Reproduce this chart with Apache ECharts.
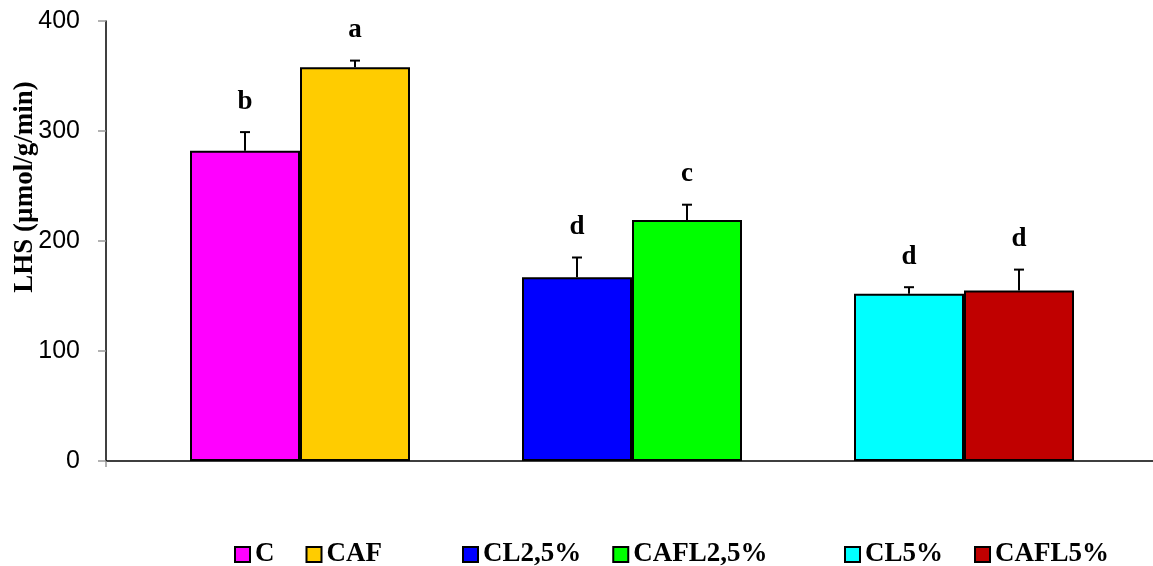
<!DOCTYPE html>
<html>
<head>
<meta charset="utf-8">
<title>LHS</title>
<script src="https://cdn.jsdelivr.net/npm/echarts@6/dist/echarts.min.js"></script>
<style>
  html, body { margin: 0; padding: 0; background: #fff; }
  #chart { width: 1153px; height: 566px; }
</style>
</head>
<body>
<div id="chart"></div>
<script>
// Treatment groups, their means, error (SD) and significance letters
const groups  = ['C', 'CAF', 'CL2,5%', 'CAFL2,5%', 'CL5%', 'CAFL5%'];
const means   = [282, 358, 167, 219, 152, 155];
const errors  = [17, 6, 18, 14, 6, 19];
const letters = ['b', 'a', 'd', 'c', 'd', 'd'];
const colors  = ['#FF00FF', '#FFCC00', '#0000FF', '#00FF00', '#00FFFF', '#C00000'];
const yTicks  = [0, 100, 200, 300, 400];
const axisTitle = 'LHS (µmol/g/min)';

const SERIF = "'Liberation Serif', 'Times New Roman', serif";
const SANS = "'Liberation Sans', Arial, sans-serif";
const BAR_W = 110;
const LABEL_GAP = 17;

// Each pair of bars shares one category slot: first of pair stacks "left", second "right"
const slots = ['p0', 'p1', 'p2'];
const barSeries = groups.map((name, i) => {
  const cat = Math.floor(i / 2);
  const data = slots.map((_, c) => (c === cat ? means[i] : '-'));
  return {
    name,
    type: 'bar',
    xAxisIndex: 1,
    yAxisIndex: 1,
    stack: i % 2 === 0 ? 'left' : 'right',
    barWidth: BAR_W,
    barGap: '0%',
    data,
    itemStyle: { color: colors[i], borderColor: '#000', borderWidth: 2 },
    emphasis: { disabled: true }
  };
});

const errData = groups.map((_, i) => [Math.floor(i / 2), i % 2 === 0 ? -1 : 1, means[i], errors[i]]);

// Error bars with caps, plus the significance letter above each one
const errorSeries = {
  type: 'custom',
  xAxisIndex: 1,
  yAxisIndex: 1,
  data: errData,
  z: 5,
  renderItem: function (params, api) {
    const base = api.coord([api.value(0), api.value(2)]);
    const top = api.coord([api.value(0), api.value(2) + api.value(3)]);
    const x = base[0] + api.value(1) * BAR_W / 2;
    const lineStyle = { stroke: '#000', lineWidth: 2 };
    return {
      type: 'group',
      children: [
        { type: 'line', shape: { x1: x, y1: base[1], x2: x, y2: top[1] }, style: lineStyle },
        { type: 'line', shape: { x1: x - 5, y1: top[1], x2: x + 5, y2: top[1] }, style: lineStyle },
        {
          type: 'text',
          x: x,
          y: top[1] - LABEL_GAP,
          style: {
            text: letters[params.dataIndex],
            fill: '#000',
            font: 'bold 27px ' + SERIF,
            align: 'center',
            verticalAlign: 'bottom'
          }
        }
      ]
    };
  }
};

const legendText = { fontFamily: SERIF, fontWeight: 'bold', fontSize: 27, color: '#000' };
function legendFor(names, left) {
  return {
    data: names,
    left: left,
    top: 541,
    padding: 0,
    orient: 'horizontal',
    itemGap: 31,
    itemWidth: 15,
    itemHeight: 15,
    icon: 'rect',
    selectedMode: false,
    itemStyle: { borderColor: '#000', borderWidth: 2 },
    textStyle: legendText
  };
}

const chart = echarts.init(document.getElementById('chart'), null, { renderer: 'canvas' });
chart.setOption({
  animation: false,
  backgroundColor: '#fff',
  grid: [
    { left: 106, right: 0, top: 21, bottom: 105 },
    { left: 134, width: 996, top: 21, bottom: 105 }
  ],
  xAxis: [
    {
      gridIndex: 0,
      type: 'value',
      min: 0,
      max: 1,
      axisLine: { show: true, onZero: false, lineStyle: { color: '#000', width: 1.5 } },
      axisTick: { show: true, length: 6, customValues: [0], lineStyle: { color: '#999', width: 1.5 } },
      axisLabel: { show: false },
      splitLine: { show: false }
    },
    {
      gridIndex: 1,
      type: 'category',
      data: slots,
      show: false
    }
  ],
  yAxis: [
    {
      gridIndex: 0,
      type: 'value',
      min: yTicks[0],
      max: yTicks[yTicks.length - 1],
      interval: 100,
      axisLine: { show: true, lineStyle: { color: '#000', width: 1.5 } },
      axisTick: { show: true, length: 8, lineStyle: { color: '#999', width: 1.5 } },
      axisLabel: { fontFamily: SANS, fontSize: 25, color: '#000', margin: 26 },
      splitLine: { show: false }
    },
    {
      gridIndex: 1,
      type: 'value',
      min: yTicks[0],
      max: yTicks[yTicks.length - 1],
      show: false
    }
  ],
  legend: [
    legendFor([groups[0], groups[1]], 234),
    legendFor([groups[2], groups[3]], 462),
    legendFor([groups[4], groups[5]], 844)
  ],
  graphic: [
    {
      type: 'text',
      x: 25,
      y: 187,
      rotation: Math.PI / 2,
      style: {
        text: axisTitle,
        font: 'bold 27px ' + SERIF,
        fill: '#000',
        align: 'center',
        verticalAlign: 'middle'
      }
    }
  ],
  series: barSeries.concat([errorSeries])
});
</script>
</body>
</html>
